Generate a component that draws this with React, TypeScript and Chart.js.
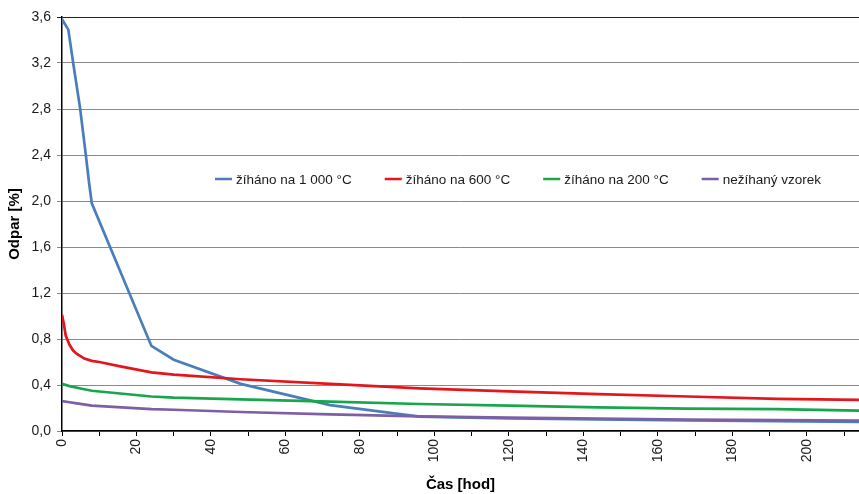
import React, { useEffect, useRef } from 'react';
import { Chart, registerables } from 'chart.js';

Chart.register(...registerables);

// ---- data ----
const seriesLabels = ['žíháno na 1 000 °C', 'žíháno na 600 °C', 'žíháno na 200 °C', 'nežíhaný vzorek'];
const seriesColors = ['#4A7EBB', '#E3161C', '#17A64B', '#7D5FA6'];

const blueHours = [0, 1.7, 3, 4.8, 6.4, 7.3, 8, 24, 30, 48, 72, 96, 120, 144, 168, 192, 214];
const blueValues = [3.58, 3.49, 3.2, 2.82, 2.4, 2.15, 1.98, 0.74, 0.62, 0.41, 0.225, 0.125, 0.11, 0.1, 0.092, 0.086, 0.08];

const redHours = [0, 0.5, 1, 1.5, 2, 3, 4, 6, 8, 10, 16, 24, 30, 48, 72, 96, 120, 144, 168, 192, 214];
const redValues = [1.01, 0.93, 0.83, 0.79, 0.75, 0.7, 0.67, 0.63, 0.61, 0.6, 0.56, 0.51, 0.49, 0.45, 0.41, 0.37, 0.345, 0.32, 0.3, 0.28, 0.27];

const greenHours = [0, 2, 5, 8, 24, 30, 48, 72, 96, 120, 144, 168, 192, 214];
const greenValues = [0.41, 0.39, 0.37, 0.35, 0.3, 0.29, 0.275, 0.255, 0.235, 0.22, 0.205, 0.195, 0.19, 0.178];

const purpleHours = [0, 2, 4, 8, 24, 30, 48, 72, 96, 120, 144, 168, 192, 214];
const purpleValues = [0.26, 0.25, 0.24, 0.22, 0.19, 0.185, 0.165, 0.145, 0.128, 0.117, 0.107, 0.1, 0.095, 0.09];

const xMin = 0;
const xMax = 214;
const xMinorStep = 10;
const xLabelStep = 20;
const yMin = 0;
const yMax = 3.6;
const yStep = 0.4;

const xTitle = 'Čas [hod]';
const yTitle = 'Odpar [%]';

const toPoints = (xs: number[], ys: number[]) => xs.map((x, i) => ({ x, y: ys[i] }));

const inlineLegend = {
  id: 'inlineLegend',
  afterDatasetsDraw(chart: any) {
    const { ctx, chartArea } = chart;
    ctx.save();
    ctx.font = '13.5px "Liberation Sans", Arial, sans-serif';
    ctx.textBaseline = 'middle';
    ctx.textAlign = 'left';
    let x = chartArea.left + 153;
    const y = chartArea.top + 162;
    const dsList = chart.data.datasets;
    for (let i = 0; i < dsList.length; i++) {
      const ds = dsList[i];
      ctx.strokeStyle = ds.borderColor;
      ctx.lineWidth = 2.5;
      ctx.beginPath();
      ctx.moveTo(x, y);
      ctx.lineTo(x + 17, y);
      ctx.stroke();
      ctx.fillStyle = '#1a1a1a';
      ctx.fillText(ds.label, x + 21, y + 1);
      x += 21 + ctx.measureText(ds.label).width + 33;
    }
    ctx.restore();
  },
};

export default function App() {
  const canvasRef = useRef<HTMLCanvasElement | null>(null);

  useEffect(() => {
    if (!canvasRef.current) return;
    const allX = [blueHours, redHours, greenHours, purpleHours];
    const allY = [blueValues, redValues, greenValues, purpleValues];
    const orders = [3, 2, 1, 0];
    const chart = new Chart(canvasRef.current, {
      type: 'line',
      data: {
        datasets: seriesLabels.map((label, i) => ({
          label,
          data: toPoints(allX[i], allY[i]),
          borderColor: seriesColors[i],
          backgroundColor: seriesColors[i],
          borderWidth: 2.7,
          pointRadius: 0,
          tension: 0,
          fill: false,
          order: orders[i],
        })),
      },
      options: {
        animation: false,
        responsive: false,
        maintainAspectRatio: false,
        layout: { padding: { top: 17, right: 0, bottom: 0, left: 0 } },
        plugins: {
          legend: { display: false },
          tooltip: { enabled: false },
        },
        scales: {
          x: {
            type: 'linear',
            min: xMin,
            max: xMax,
            afterFit: (scale: any) => {
              scale.height = 63;
              scale.paddingRight = 0;
              scale.paddingLeft = 0;
            },
            border: { display: true, color: '#000', width: 1.5 },
            grid: {
              drawOnChartArea: false,
              drawTicks: true,
              tickLength: 5,
              color: '#000',
            },
            ticks: {
              stepSize: xMinorStep,
              includeBounds: false,
              autoSkip: false,
              minRotation: 90,
              maxRotation: 90,
              padding: 3,
              color: '#1a1a1a',
              font: { family: '"Liberation Sans", Arial, sans-serif', size: 14 },
              callback: (v: any) => (Math.round(v) % xLabelStep === 0 ? String(Math.round(v)) : ''),
            },
            title: {
              display: true,
              text: xTitle,
              color: '#000',
              font: { family: '"Liberation Sans", Arial, sans-serif', size: 15, weight: 'bold' },
              padding: { top: 0, bottom: 0 },
            },
          },
          y: {
            type: 'linear',
            min: yMin,
            max: yMax,
            afterFit: (scale: any) => {
              scale.width = 62;
              scale.paddingTop = 0;
              scale.paddingBottom = 0;
            },
            border: { display: true, color: '#000', width: 1.5 },
            grid: {
              drawTicks: true,
              tickLength: 5,
              color: (c: any) => (c.tick && Math.abs(c.tick.value - yMax) < 1e-6 ? '#222' : '#8a8a8a'),
              lineWidth: 1,
            },
            ticks: {
              stepSize: yStep,
              padding: 6,
              color: '#1a1a1a',
              font: { family: '"Liberation Sans", Arial, sans-serif', size: 14 },
              callback: (v: any) => Number(v).toFixed(1).replace('.', ','),
            },
            title: {
              display: true,
              text: yTitle,
              color: '#000',
              font: { family: '"Liberation Sans", Arial, sans-serif', size: 15, weight: 'bold' },
              padding: { top: 6, bottom: 0 },
            },
          },
        },
      } as any,
      plugins: [inlineLegend],
    });
    return () => chart.destroy();
  }, []);

  return (
    <div style={{ position: 'absolute', left: 0, top: 0, width: 859, height: 494, background: '#fff' }}>
      <canvas ref={canvasRef} width={859} height={494} style={{ display: 'block' }} />
    </div>
  );
}
